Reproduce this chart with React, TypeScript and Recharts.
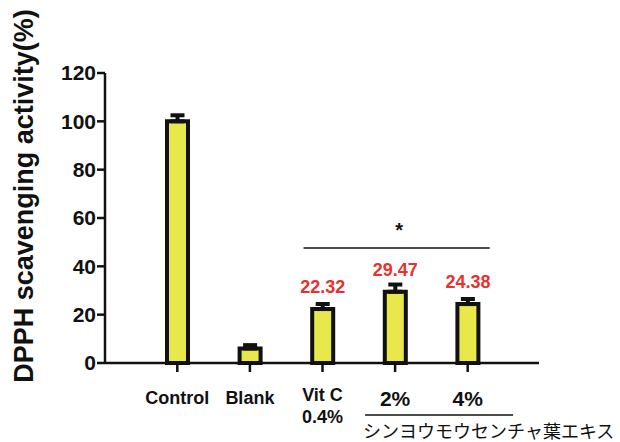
import React from "react";
import {
  BarChart,
  Bar,
  XAxis,
  YAxis,
  ErrorBar,
  LabelList,
  ReferenceLine,
} from "recharts";

const groups = ["Control", "Blank", "Vit C", "2%", "4%"];
const means = [100, 6, 22.32, 29.47, 24.38];
const upperErr = [2.5, 1.4, 2.1, 3.0, 2.1];
const shownValues = [null, null, "22.32", "29.47", "24.38"];
const yTicks = [0, 20, 40, 60, 80, 100, 120];

const data = groups.map((g, i) => ({
  group: g,
  value: means[i],
  err: [0, upperErr[i]],
  label: shownValues[i],
}));

const FONT = "'Liberation Sans', Arial, sans-serif";

const XTick = (props: any) => {
  const { x, y, payload } = props;
  const v = payload.value;
  if (v === "Vit C") {
    return (
      <g>
        <text x={x} y={y + 27} textAnchor="middle" fontFamily={FONT} fontWeight="bold" fontSize={18} fill="#111">
          Vit C
        </text>
        <text x={x} y={y + 49} textAnchor="middle" fontFamily={FONT} fontWeight="bold" fontSize={18} fill="#111">
          0.4%
        </text>
      </g>
    );
  }
  if (v === "2%" || v === "4%") {
    return (
      <g>
        <text x={x} y={y + 32} textAnchor="middle" fontFamily={FONT} fontWeight="bold" fontSize={21} fill="#111">
          {v}
        </text>
        {v === "2%" && (
          <g>
            <line x1={x - 30} x2={x + 118} y1={y + 41} y2={y + 41} stroke="#111" strokeWidth={1.5} />
            <text x={x - 32} y={y + 64} fontFamily="'Noto Sans CJK JP', sans-serif" fontSize={18} fill="#111">
              シンヨウモウセンチャ葉エキス
            </text>
          </g>
        )}
      </g>
    );
  }
  return (
    <text x={x} y={y + 30} textAnchor="middle" fontFamily={FONT} fontWeight="bold" fontSize={18} fill="#111">
      {v}
    </text>
  );
};

const SigLine = (props: any) => {
  const { x1, x2, y1 } = props;
  return (
    <g>
      <line x1={x1 - 19} x2={x2 + 22} y1={y1} y2={y1} stroke="#111" strokeWidth={1.5} />
      <text x={(x1 + x2) / 2 + 4} y={y1 - 11} textAnchor="middle" fontFamily={FONT} fontWeight="bold" fontSize={20} fill="#111">
        *
      </text>
    </g>
  );
};

const YLabel = (props: any) => {
  const { viewBox } = props;
  const cx = viewBox.x + 33;
  const cy = viewBox.y + viewBox.height / 2 - 22;
  return (
    <text
      transform={`translate(${cx}, ${cy}) rotate(-90)`}
      textAnchor="middle"
      fontFamily={FONT}
      fontWeight="bold"
      fontSize={27}
      fill="#111"
    >
      DPPH scavenging activity(%)
    </text>
  );
};

export default function App() {
  return (
    <div style={{ position: "absolute", left: 0, top: 0, width: 620, height: 442, background: "#fff" }}>
      <BarChart
        width={620}
        height={442}
        data={data}
        margin={{ top: 73, right: 81, left: 0, bottom: 0 }}
      >
        <XAxis
          dataKey="group"
          height={79}
          padding={{ left: 36, right: 35 }}
          axisLine={{ stroke: "#111", strokeWidth: 2.5 }}
          tickLine={{ stroke: "#111", strokeWidth: 2.5 }}
          tickSize={9}
          tick={<XTick />}
          interval={0}
        />
        <YAxis
          width={105}
          domain={[0, 120]}
          ticks={yTicks}
          interval={0}
          axisLine={{ stroke: "#111", strokeWidth: 2.5 }}
          tickLine={{ stroke: "#111", strokeWidth: 2.5 }}
          tickSize={8}
          tickMargin={1}
          tick={{ fontFamily: FONT, fontWeight: "bold", fontSize: 21, fill: "#111" }}
          label={<YLabel />}
        />
        <ReferenceLine
          segment={[
            { x: "Vit C", y: 47.6 },
            { x: "4%", y: 47.6 },
          ]}
          shape={<SigLine />}
        />
        <Bar
          dataKey="value"
          fill="#e8e84a"
          stroke="#111"
          strokeWidth={4}
          barSize={21}
          isAnimationActive={false}
        >
          <ErrorBar dataKey="err" width={7} stroke="#111" strokeWidth={4} direction="y" />
          <LabelList
            dataKey="label"
            position="top"
            offset={16}
            style={{ fontFamily: FONT, fontWeight: "bold", fontSize: 18, fill: "#e8312f" }}
          />
        </Bar>
      </BarChart>
    </div>
  );
}
